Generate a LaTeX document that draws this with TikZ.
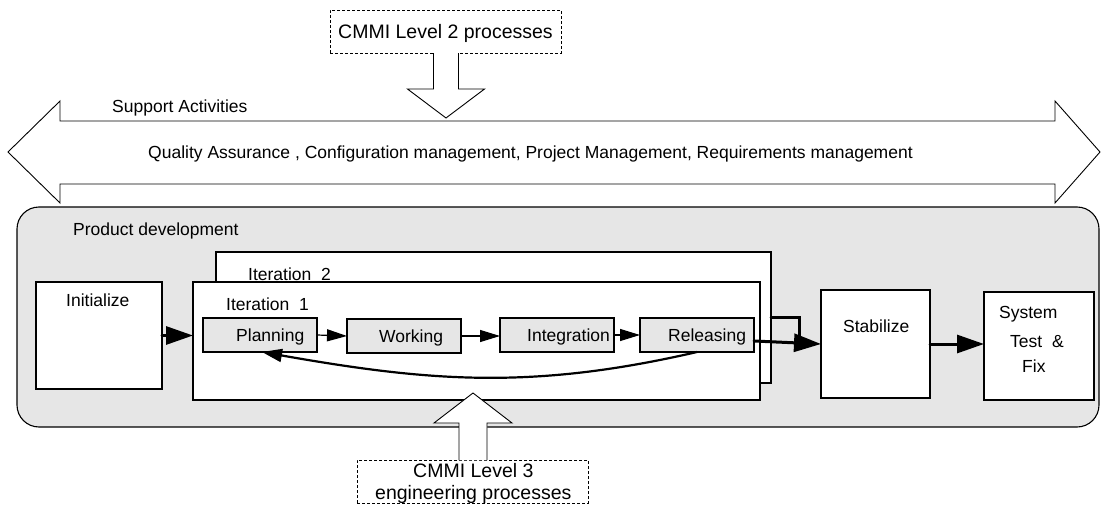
\documentclass[tikz,border=0pt]{standalone}
\usepackage{fontspec}
\setmainfont{Liberation Sans}
\usetikzlibrary{arrows.meta,calc}
\definecolor{bggray}{HTML}{E6E6E6}
\begin{document}
\begin{tikzpicture}[x=1pt,y=-1pt,
  box/.style={draw=black,line width=1.1pt,fill=white,inner sep=0pt,outer sep=0pt,anchor=north west},
  gbox/.style={box,fill=bggray},
  dbox/.style={draw=black,line width=0.8pt,dash pattern=on 3pt off 2pt,fill=white,inner sep=0pt,outer sep=0pt,anchor=north west},
  lbl/.style={anchor=base west,inner sep=0pt,font=\fontsize{17.5}{20}\selectfont},
  blbl/.style={anchor=base west,inner sep=0pt,font=\fontsize{19.5}{22}\selectfont},
  blockarrow/.style={draw=black,line width=0.9pt,fill=white,line join=miter},
  thin/.style={draw=black,line width=1.2pt,-{Triangle[length=20pt,width=12pt]}},
  thick/.style={draw=black,line width=3pt,line cap=round,-{Triangle[length=27pt,width=18pt]}}
]
\useasboundingbox (0,0) rectangle (1101,506);
% support activities double arrow
\filldraw[blockarrow] (8,152) -- (60,101) -- (60,121) -- (1055,121) -- (1055,101) -- (1100,152)
  -- (1055,203) -- (1055,184) -- (60,184) -- (60,203) -- cycle;
\node[lbl] (tsup) at (112,112) {Support Activities};
\node[lbl] (tqa) at (148,158) {Quality Assurance , Configuration management, Project Management, Requirements management};
% product development
\node[draw=black,line width=1.1pt,fill=bggray,rounded corners=22pt,inner sep=0pt,outer sep=0pt,
  minimum width=1082pt,minimum height=220pt,anchor=north west] (pd) at (17,207) {};
\node[lbl] (tpd) at (73,235) {Product development};
% boxes
\node[box,minimum width=555pt,minimum height=131pt] (it2) at (216,252) {};
\node[box,minimum width=567pt,minimum height=118pt] (it1) at (193,282) {};
\node[lbl] (tit2) at (248,280) {Iteration\ \ 2};
\node[lbl] (tit1) at (226,310) {Iteration\ \ 1};
\node[box,minimum width=126pt,minimum height=107pt] (init) at (36,282) {};
\node[lbl] (tinit) at (66,306) {Initialize};
\node[gbox,minimum width=114pt,minimum height=34pt] (plan) at (203,318) {};
\node[gbox,minimum width=114pt,minimum height=34pt] (work) at (347,319) {};
\node[gbox,minimum width=114pt,minimum height=34pt] (integ) at (500,318) {};
\node[gbox,minimum width=114pt,minimum height=34pt] (rel) at (640,318) {};
\node[lbl] (tplan) at (236,341) {Planning};
\node[lbl] (twork) at (379,342) {Working};
\node[lbl] (tinteg) at (527,341) {Integration};
\node[lbl] (trel) at (668,341) {Releasing};
\node[box,minimum width=109pt,minimum height=108pt] (stab) at (821,290) {};
\node[lbl] (tstab) at (843,332) {Stabilize};
\node[box,minimum width=110pt,minimum height=108pt] (sys) at (984,292) {};
\node[lbl] (tsys1) at (999,318) {System};
\node[lbl] (tsys2) at (1010,347) {Test\ \ \&};
\node[lbl] (tsys3) at (1022,372) {Fix};
% CMMI boxes
\node[dbox,minimum width=231pt,minimum height=43pt] (c2) at (330,10) {};
\node[blbl] (tc2) at (338,38) {CMMI Level 2 processes};
\node[dbox,minimum width=231pt,minimum height=43pt] (c3) at (357,460) {};
\node[blbl] (tc3a) at (413,477) {CMMI Level 3};
\node[blbl] (tc3b) at (375,499) {engineering processes};
% block arrows
\fill[white] ([xshift=-12pt]c2.south) -- ++(0,36) -- ++(-26,0) -- ++(38.5,29) -- ++(38.5,-29) -- ++(-26,0) -- ++(0,-36) -- cycle;
\draw[blockarrow] ([xshift=-12pt]c2.south) -- ++(0,36) -- ++(-26,0) -- ++(38.5,29) -- ++(38.5,-29) -- ++(-26,0) -- ++(0,-36);
\fill[white] ([xshift=-13.5pt]c3.north) -- ++(0,-37) -- ++(-25,0) -- ++(39,-30) -- ++(39,30) -- ++(-25,0) -- ++(0,37) -- cycle;
\draw[blockarrow] ([xshift=-13.5pt]c3.north) -- ++(0,-37) -- ++(-25,0) -- ++(39,-30) -- ++(39,30) -- ++(-25,0) -- ++(0,37);
% connectors
\draw[thick] (init.east) -- (init.east -| it1.west);
\draw[thin] (plan.east) -- (work.west);
\draw[thin] (work.west -| work.east) -- (work.west -| integ.west);
\draw[thin] (integ.east) -- (rel.west);
\draw[draw=black,line width=2.2pt,-{Triangle[length=20pt,width=13pt]}] (rel.south) to[out=193,in=-10] ([xshift=2pt]plan.south);
\draw[draw=black,line width=3pt,line cap=round] (it2.east) -- ++(28,0) -- ++(0,21);
\draw[thick] ([yshift=-6pt]rel.east) -- (stab.west);
\draw[thick] (stab.east) -- (stab.east -| sys.west);
\end{tikzpicture}
\end{document}
